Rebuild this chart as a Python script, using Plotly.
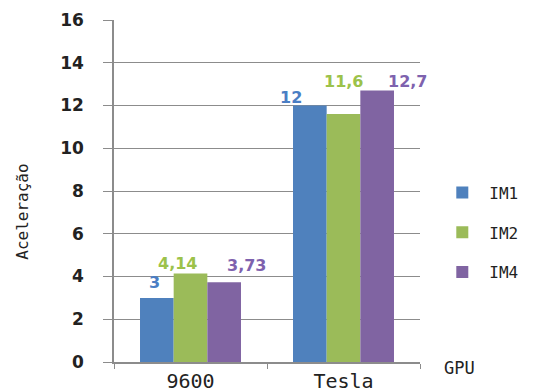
import plotly.graph_objects as go

categories = ["9600", "Tesla"]
series_names = ["IM1", "IM2", "IM4"]
im1 = [3, 12]
im2 = [4.14, 11.6]
im4 = [3.73, 12.7]
labels_im1 = ["3", "12"]
labels_im2 = ["4,14", "11,6"]
labels_im4 = ["3,73", "12,7"]
y_ticks = [0, 2, 4, 6, 8, 10, 12, 14, 16]

colors = ["#4F81BD", "#9BBB59", "#8064A2"]
label_colors = ["#4A7EC4", "#9CC24A", "#7E62AE"]

# label placement (pixel offsets from each bar's top-centre), style only
bar_offset_px = [-33.5, 0, 33.5]
label_dx = [[-3, -19], [-13, 0], [22, 30]]
label_dy = [[10, 3], [5, 27], [11, 4]]

fig = go.Figure()
annotations = []
for i, (name, vals, labs, c, lc) in enumerate(zip(series_names, [im1, im2, im4],
                                    [labels_im1, labels_im2, labels_im4],
                                    colors, label_colors)):
    fig.add_trace(go.Bar(
        x=categories, y=vals, name=name, legendgroup=name,
        marker=dict(color=c, line=dict(width=0)),
    ))
    for j, (v, t) in enumerate(zip(vals, labs)):
        annotations.append(dict(
            x=j, y=v, xref="x", yref="y", text=t, showarrow=False,
            xanchor="center", yanchor="bottom",
            xshift=bar_offset_px[i] + label_dx[i][j], yshift=label_dy[i][j] - 6,
            font=dict(family="DejaVu Sans", size=16, color=lc, weight="bold"),
        ))

annotations += [
    dict(text="Aceleração", xref="paper", yref="paper", x=-0.30, y=0.44,
         xanchor="center", yanchor="middle",
         textangle=-90, showarrow=False,
         font=dict(family="DejaVu Sans Mono", size=16, color="#222")),
    dict(text="GPU", xref="paper", yref="paper", x=1.13, y=-0.018,
         xanchor="center", yanchor="middle",
         showarrow=False,
         font=dict(family="DejaVu Sans Mono", size=17, color="#222")),
]

fig.update_layout(
    width=538, height=392,
    margin=dict(l=114, r=118, t=20, b=30, autoexpand=False),
    paper_bgcolor="white", plot_bgcolor="white",
    barmode="group", bargap=0.34, bargroupgap=0,
    showlegend=True,
    legend=dict(x=1.05, y=0.545, xanchor="left", yanchor="top",
                font=dict(family="DejaVu Sans Mono", size=16, color="#222"),
                tracegroupgap=16, itemwidth=44, bgcolor="rgba(0,0,0,0)"),
    xaxis=dict(type="category", range=[-0.5, 1.5],
               showline=True, linecolor="#8c8c8c", linewidth=1.5,
               ticks="outside", tickson="boundaries", ticklen=5, tickcolor="#8c8c8c",
               tickfont=dict(family="DejaVu Sans Mono", size=20, color="#222"),
               showgrid=False, automargin=False),
    yaxis=dict(range=[0, 16], tickvals=y_ticks, showline=True, linecolor="#8c8c8c",
               linewidth=1.5, ticks="outside", ticklen=9, tickcolor="#8c8c8c",
               gridcolor="#8c8c8c", gridwidth=1, zeroline=False,
               ticklabelstandoff=16, automargin=False,
               tickfont=dict(family="DejaVu Sans", size=17, color="#222", weight="bold")),
    annotations=annotations,
)

fig.write_html("out.html")
